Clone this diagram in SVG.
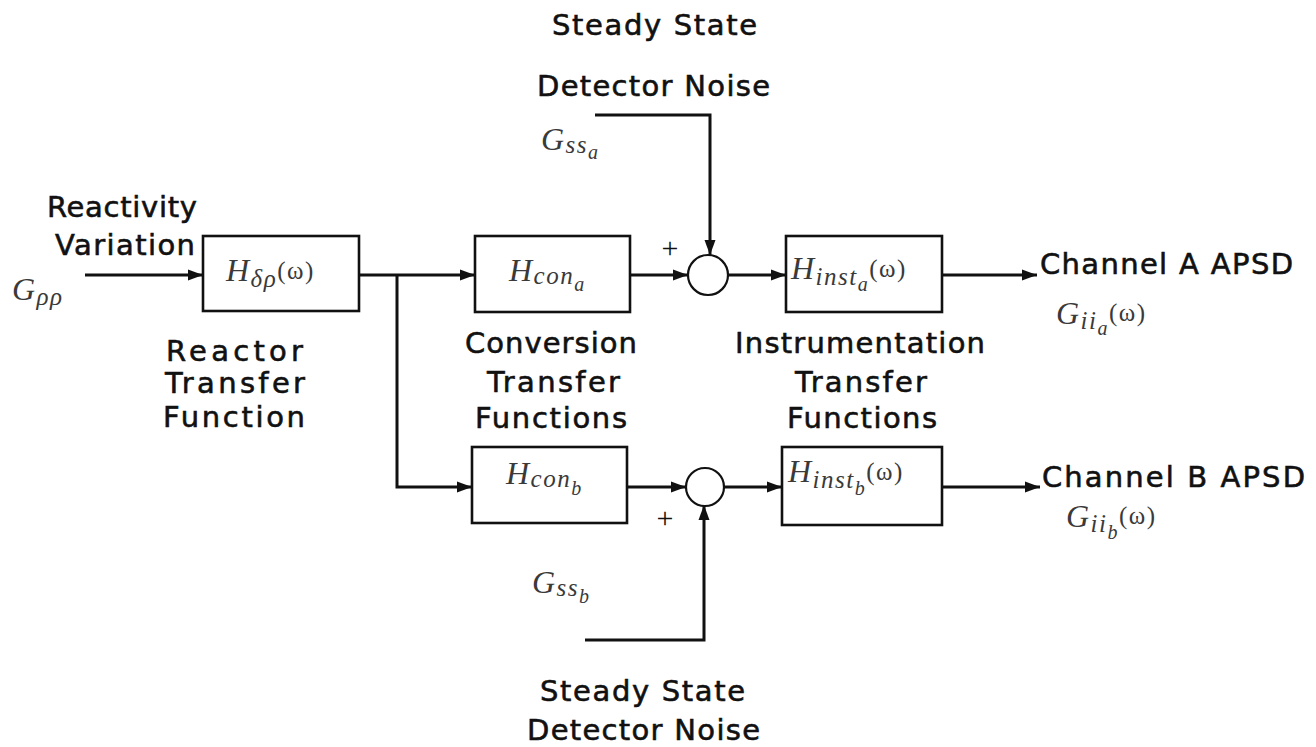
<svg xmlns="http://www.w3.org/2000/svg" width="1316" height="747" viewBox="0 0 1316 747">
  <style>
    .lbl { font-family: "DejaVu Sans", "Liberation Sans", sans-serif; font-size: 29px; fill: #111; stroke: #111; stroke-width: 0.6; }
    .math { font-family: "Liberation Serif", "DejaVu Serif", serif; font-style: italic; font-size: 32px; fill: #3a3a3a; letter-spacing: 1.5px; }
    .sub { font-size: 25px; }
    .ss { font-size: 20px; }
    .up { font-style: normal; font-size: 25px; }
    .box { fill: #fff; stroke: #111; stroke-width: 2.6; }
    .sum { fill: #fff; stroke: #111; stroke-width: 2.2; }
    .wire { fill: none; stroke: #111; stroke-width: 3; marker-end: url(#arrow); }
    .sign { font-family: "Liberation Serif", serif; font-size: 30px; fill: #111; text-anchor: middle; }
  </style>
  <defs>
    <marker id="arrow" markerUnits="userSpaceOnUse" markerWidth="16" markerHeight="12" refX="15" refY="6" orient="auto">
      <path d="M0,0.5 L15,6 L0,11.5 Z" fill="#111"/>
    </marker>
  </defs>
  <rect width="1316" height="747" fill="#fff"/>

  <!-- signal paths -->
  <g id="connectors">
    <path class="wire" d="M85 275 H203"/>
    <path class="wire" d="M359 275 H475"/>
    <path class="wire" d="M397 275 V487 H472"/>
    <path class="wire" d="M630 275 H688"/>
    <path class="wire" d="M728 275 H786"/>
    <path class="wire" d="M595 115 H710 V255"/>
    <path class="wire" d="M942 275 H1037"/>
    <path class="wire" d="M627 487 H686"/>
    <path class="wire" d="M724 487 H782"/>
    <path class="wire" d="M585 640 H704 V505"/>
    <path class="wire" d="M942 487 H1040"/>
  </g>

  <!-- input -->
  <g id="input">
    <text class="lbl" x="47" y="217" textLength="150" lengthAdjust="spacing">Reactivity</text>
    <text class="lbl" x="55" y="255" textLength="140" lengthAdjust="spacing">Variation</text>
    <text class="math" x="12" y="300">G<tspan class="sub" dy="5">ρρ</tspan></text>
  </g>

  <!-- reactor transfer function -->
  <g id="reactor">
    <rect class="box" x="203" y="236" width="156" height="75"/>
    <text class="math" x="226" y="281">H<tspan class="sub" dy="6">δρ</tspan><tspan class="up" dy="-8">(ω)</tspan></text>
    <text class="lbl" x="166" y="361" textLength="137" lengthAdjust="spacing">Reactor</text>
    <text class="lbl" x="165" y="393" textLength="140" lengthAdjust="spacing">Transfer</text>
    <text class="lbl" x="163" y="427" textLength="142" lengthAdjust="spacing">Function</text>
  </g>

  <!-- conversion transfer functions -->
  <g id="con-a">
    <rect class="box" x="475" y="236" width="155" height="76"/>
    <text class="math" x="509" y="281">H<tspan class="sub" dy="3">con</tspan><tspan class="ss" dy="7">a</tspan></text>
  </g>
  <g id="con-b">
    <rect class="box" x="472" y="447" width="155" height="76"/>
    <text class="math" x="506" y="484">H<tspan class="sub" dy="3">con</tspan><tspan class="ss" dy="8">b</tspan></text>
  </g>
  <g id="con-label">
    <text class="lbl" x="465" y="353" textLength="172" lengthAdjust="spacing">Conversion</text>
    <text class="lbl" x="487" y="392" textLength="133" lengthAdjust="spacing">Transfer</text>
    <text class="lbl" x="475" y="428" textLength="152" lengthAdjust="spacing">Functions</text>
  </g>

  <!-- summing junctions -->
  <g id="sum-a">
    <circle class="sum" cx="708" cy="275" r="20"/>
    <text class="sign" x="670" y="258">+</text>
  </g>
  <g id="sum-b">
    <circle class="sum" cx="705" cy="487" r="19"/>
    <text class="sign" x="665" y="528">+</text>
  </g>

  <!-- detector noise sources -->
  <g id="noise-a">
    <text class="lbl" x="552" y="35" textLength="205" lengthAdjust="spacing">Steady State</text>
    <text class="lbl" x="537" y="96" textLength="233" lengthAdjust="spacing">Detector Noise</text>
    <text class="math" x="541" y="150">G<tspan class="sub" dy="3">ss</tspan><tspan class="ss" dy="6">a</tspan></text>
  </g>
  <g id="noise-b">
    <text class="math" x="532" y="593">G<tspan class="sub" dy="3">ss</tspan><tspan class="ss" dy="7">b</tspan></text>
    <text class="lbl" x="540" y="701" textLength="205" lengthAdjust="spacing">Steady State</text>
    <text class="lbl" x="527" y="740" textLength="233" lengthAdjust="spacing">Detector Noise</text>
  </g>

  <!-- instrumentation transfer functions -->
  <g id="inst-a">
    <rect class="box" x="786" y="236" width="156" height="76"/>
    <text class="math" x="791" y="279">H<tspan class="sub" dy="6">inst</tspan><tspan class="ss" dy="6">a</tspan><tspan class="up" dy="-14">(ω)</tspan></text>
  </g>
  <g id="inst-b">
    <rect class="box" x="782" y="447" width="160" height="78"/>
    <text class="math" x="788" y="482">H<tspan class="sub" dy="6">inst</tspan><tspan class="ss" dy="7">b</tspan><tspan class="up" dy="-15">(ω)</tspan></text>
  </g>
  <g id="inst-label">
    <text class="lbl" x="735" y="353" textLength="250" lengthAdjust="spacing">Instrumentation</text>
    <text class="lbl" x="795" y="392" textLength="132" lengthAdjust="spacing">Transfer</text>
    <text class="lbl" x="787" y="428" textLength="150" lengthAdjust="spacing">Functions</text>
  </g>

  <!-- outputs -->
  <g id="out-a">
    <text class="lbl" x="1040" y="274" textLength="253" lengthAdjust="spacing">Channel A APSD</text>
    <text class="math" x="1056" y="324">G<tspan class="sub" dy="5">ii</tspan><tspan class="ss" dy="6">a</tspan><tspan class="up" dy="-14">(ω)</tspan></text>
  </g>
  <g id="out-b">
    <text class="lbl" x="1042" y="487" textLength="263" lengthAdjust="spacing">Channel B APSD</text>
    <text class="math" x="1066" y="527">G<tspan class="sub" dy="5">ii</tspan><tspan class="ss" dy="7">b</tspan><tspan class="up" dy="-15">(ω)</tspan></text>
  </g>
</svg>
